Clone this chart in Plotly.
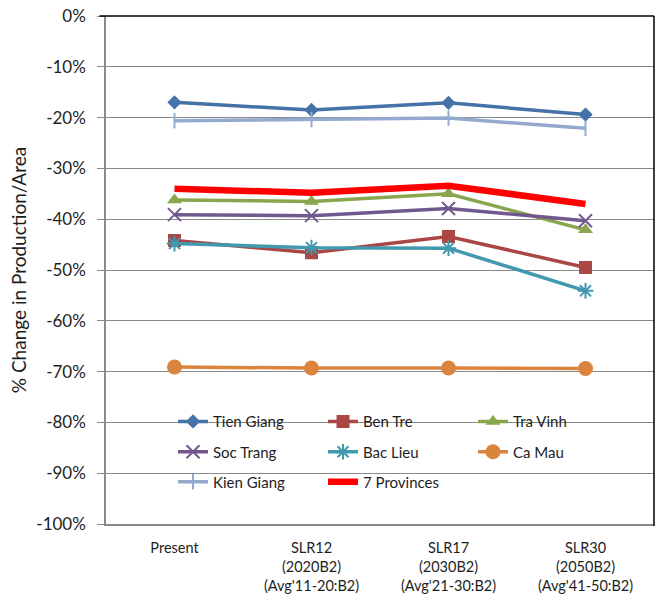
import plotly.graph_objects as go

# Scenario categories (x axis)
scenarios = [
    "Present",
    "SLR12<br>(2020B2)<br>(Avg'11-20:B2)",
    "SLR17<br>(2030B2)<br>(Avg'21-30:B2)",
    "SLR30<br>(2050B2)<br>(Avg'41-50:B2)",
]

# % change in production/area per province
tien_giang = [-17.0, -18.5, -17.1, -19.4]
ben_tre = [-44.2, -46.6, -43.4, -49.5]
tra_vinh = [-36.2, -36.5, -35.0, -42.1]
soc_trang = [-39.1, -39.3, -37.9, -40.3]
bac_lieu = [-44.8, -45.6, -45.7, -54.1]
ca_mau = [-69.1, -69.3, -69.3, -69.4]
kien_giang = [-20.6, -20.4, -20.1, -22.1]
seven_provinces = [-34.0, -34.8, -33.4, -37.0]

y_tickvals = [0, -10, -20, -30, -40, -50, -60, -70, -80, -90, -100]
y_ticktext = ["0%", "-10%", "-20%", "-30%", "-40%", "-50%",
              "-60%", "-70%", "-80%", "-90%", "-100%"]

FONT = "Lato"
TEXT = "#1e1e1e"
GRID = "#8a8a8a"

series = [
    # name, values, colour, symbol, size, line width, legend row
    ("Tien Giang", tien_giang, "#4572A7", "diamond", 11, 3.5, "legend"),
    ("Ben Tre", ben_tre, "#AA4643", "square", 13, 3.5, "legend"),
    ("Tra Vinh", tra_vinh, "#89A54E", "triangle-up", 13, 3.5, "legend"),
    ("Soc Trang", soc_trang, "#71588F", "x-thin-open", 13, 3.5, "legend2"),
    ("Bac Lieu", bac_lieu, "#4198AF", "asterisk-open", 13, 3.5, "legend2"),
    ("Ca Mau", ca_mau, "#DB843D", "circle", 15, 3.5, "legend2"),
    ("Kien Giang", kien_giang, "#93A9CF", "line-ns-open", 11, 3.5, "legend3"),
    ("7 Provinces", seven_provinces, "#FF0000", None, 0, 6.5, "legend3"),
]

fig = go.Figure()
for name, vals, color, symbol, size, lw, leg in series:
    if symbol is None:
        fig.add_trace(go.Scatter(
            x=scenarios, y=vals, name=name, mode="lines",
            line=dict(color=color, width=lw), legend=leg,
        ))
    else:
        open_sym = symbol.endswith("-open")
        fig.add_trace(go.Scatter(
            x=scenarios, y=vals, name=name, mode="lines+markers",
            line=dict(color=color, width=lw),
            marker=dict(symbol=symbol, size=size, color=color,
                        line=dict(color=color, width=2 if open_sym else 0)),
            legend=leg,
        ))

legend_common = dict(
    orientation="h", xanchor="left", yanchor="middle",
    bgcolor="rgba(0,0,0,0)", borderwidth=0,
    font=dict(family=FONT, size=15, color=TEXT),
    entrywidth=105, itemwidth=30, tracegroupgap=0,
)
x_leg = 0.1223
fig.update_layout(
    legend=dict(x=x_leg, y=0.2014, **legend_common),
    legend2=dict(x=x_leg, y=0.1417, **legend_common),
    legend3=dict(x=x_leg, y=0.0827, **legend_common),
)

# white panel behind the legend rows, covering the gridlines
fig.add_shape(type="rect", xref="paper", yref="paper",
              x0=(154 - 106) / 548, x1=(604 - 106) / 548,
              y0=0.05, y1=0.235, fillcolor="white",
              line=dict(width=0), layer="between")
# dark frame on top and right of the plot area
fig.add_shape(type="line", xref="paper", yref="paper",
              x0=-0.012, x1=1, y0=1, y1=1,
              line=dict(color="#000000", width=1.5), layer="above")
fig.add_shape(type="line", xref="paper", yref="paper",
              x0=1, x1=1, y0=-0.004, y1=1,
              line=dict(color="#000000", width=1.5), layer="above")

fig.update_xaxes(
    range=[-0.5, 3.5], showgrid=False, showline=True,
    linecolor=GRID, linewidth=1.5, ticks="",
    tickfont=dict(family=FONT, size=14.5, color=TEXT),
    ticklabelstandoff=10,
)
fig.update_yaxes(
    range=[-100, 0], tickvals=y_tickvals, ticktext=y_ticktext,
    showgrid=True, gridcolor=GRID, gridwidth=1.3,
    showline=True, linecolor=GRID, linewidth=1.5,
    ticks="outside", ticklen=7, tickcolor=GRID, tickwidth=1.3,
    tickfont=dict(family=FONT, size=17, color=TEXT),
    ticklabelstandoff=8, zeroline=False,
    title=dict(text="% Change in Production/Area",
               font=dict(family=FONT, size=19, color=TEXT), standoff=5),
)

fig.update_layout(
    width=656, height=606,
    margin=dict(l=106, r=2, t=16, b=82),
    plot_bgcolor="white", paper_bgcolor="white",
    showlegend=True,
)

fig.write_html("out.html")
